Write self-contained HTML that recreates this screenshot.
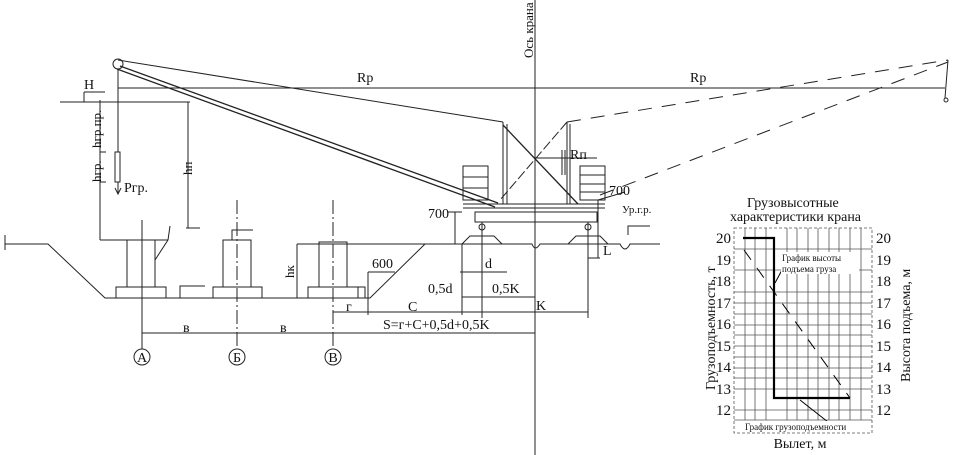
<!DOCTYPE html>
<html><head><meta charset="utf-8"><style>
html,body{margin:0;padding:0;background:#fff;}
svg{display:block;}
text{font-family:"Liberation Serif",serif;fill:#111;}
</style></head><body>
<svg width="956" height="455" viewBox="0 0 956 455" xmlns="http://www.w3.org/2000/svg">
<g stroke="#222" stroke-width="1" fill="none">
<line x1="535" y1="0" x2="535" y2="455"/>
<line x1="118" y1="88" x2="945" y2="88"/>
<circle cx="118" cy="64" r="5"/>
<line x1="118" y1="60" x2="503" y2="122"/>
<line x1="120" y1="66" x2="498" y2="203" stroke-width="1.3"/>
<line x1="117" y1="69" x2="495" y2="207" stroke-width="1.3"/>
<line x1="567" y1="122" x2="948" y2="60" stroke-dasharray="14,10"/>
<line x1="600" y1="195" x2="948" y2="62" stroke-dasharray="14,10"/>
<line x1="948" y1="60" x2="945" y2="98"/>
<circle cx="946" cy="100" r="2"/>
<line x1="503" y1="122" x2="503" y2="204"/>
<line x1="507" y1="124" x2="507" y2="204"/>
<line x1="503" y1="125" x2="578" y2="204" stroke-width="1.3"/>
<line x1="567" y1="122" x2="500" y2="200" stroke-dasharray="10,3"/>
<line x1="567" y1="122" x2="567" y2="204"/>
<line x1="570" y1="124" x2="570" y2="204"/>
<line x1="535" y1="158" x2="597" y2="158"/>
<line x1="562" y1="150" x2="562" y2="175"/><line x1="565" y1="150" x2="565" y2="175"/>
<rect x="463" y="166" width="25" height="34"/>
<line x1="463" y1="177" x2="488" y2="177"/><line x1="463" y1="188" x2="488" y2="188"/>
<rect x="580" y="166" width="25" height="34"/>
<line x1="580" y1="175" x2="605" y2="175"/><line x1="580" y1="184" x2="605" y2="184"/><line x1="580" y1="192" x2="605" y2="192"/>
<line x1="463" y1="204" x2="605" y2="204"/>
<line x1="463" y1="208" x2="605" y2="208"/>
<rect x="475" y="212" width="122" height="10"/>
<line x1="482" y1="222" x2="482" y2="234"/><circle cx="482" cy="227" r="3"/>
<line x1="588" y1="222" x2="588" y2="234"/><circle cx="588" cy="227" r="3"/>
<path d="M462 244 L470 236 L494 236 L502 244"/>
<path d="M568 244 L576 236 L600 236 L608 244"/>
<path d="M5 244 L48 244 L105 298 L370 298 L425 244 L532 244 Q535 252 540 244 L620 244 Q625 254 630 244 L660 244"/>
<line x1="5" y1="235" x2="5" y2="250"/>
<line x1="100" y1="100" x2="100" y2="240"/>
<line x1="60" y1="102" x2="190" y2="102"/>
<line x1="84" y1="92" x2="84" y2="102"/><line x1="84" y1="92" x2="105" y2="92"/>
<line x1="118" y1="69" x2="118" y2="152"/>
<rect x="115" y="152" width="5" height="30"/>
<line x1="118" y1="182" x2="118" y2="193"/>
<path d="M115 188 L118 194 L121 188"/>
<line x1="188" y1="102" x2="188" y2="228"/>
<line x1="186" y1="228" x2="200" y2="228"/>
<line x1="100" y1="152" x2="106" y2="152"/><line x1="100" y1="182" x2="106" y2="182"/>
<line x1="100" y1="240" x2="168" y2="240"/>
<path d="M168 240 L170 226 M168 240 L155 260"/>
<rect x="127" y="240" width="28" height="47"/><rect x="116" y="287" width="50" height="11"/>
<line x1="142" y1="220" x2="142" y2="349"/>
<rect x="223" y="240" width="28" height="47"/><rect x="213" y="287" width="49" height="11"/>
<line x1="237" y1="200" x2="237" y2="349" stroke-dasharray="14,3,2,3"/>
<path d="M232 240 L232 230 L253 230"/>
<rect x="319" y="242" width="28" height="45"/><rect x="308" y="287" width="50" height="11"/>
<line x1="333" y1="200" x2="333" y2="349" stroke-dasharray="14,3,2,3"/>
<line x1="297" y1="244" x2="425" y2="244"/>
<line x1="297" y1="244" x2="297" y2="298"/>
<path d="M180 298 L180 286 L205 286"/>
<path d="M358 287 L365 287 L365 298"/>
<line x1="368" y1="272" x2="368" y2="315"/>
<line x1="368" y1="272" x2="395" y2="272"/>
<line x1="142" y1="333" x2="420" y2="333"/>
<line x1="333" y1="312" x2="535" y2="312"/>
<line x1="368" y1="312" x2="368" y2="298"/>
<line x1="462" y1="297" x2="535" y2="297"/>
<line x1="462" y1="244" x2="462" y2="315"/>
<line x1="482" y1="234" x2="482" y2="318"/>
<line x1="588" y1="234" x2="588" y2="318"/>
<line x1="460" y1="272" x2="507" y2="272"/>
<line x1="482" y1="312" x2="588" y2="312"/>
<line x1="420" y1="333" x2="535" y2="333"/>
<line x1="448" y1="212" x2="462" y2="212"/><line x1="455" y1="212" x2="455" y2="244"/>
<line x1="598" y1="200" x2="598" y2="258"/>
<line x1="588" y1="258" x2="600" y2="258"/>
<line x1="598" y1="200" x2="625" y2="192"/>
<path d="M628 235 L628 226 L650 226"/>
<circle cx="142" cy="357" r="8"/><circle cx="237" cy="357" r="8"/><circle cx="333" cy="357" r="8"/>
</g>
<g font-size="14">
<text x="84" y="89">H</text>
<text x="357" y="82">Rp</text>
<text x="690" y="82">Rp</text>
<text x="570" y="159">Rп</text>
<text x="609" y="195">700</text>
<text x="428" y="218">700</text>
<text x="622" y="213" font-size="11">Ур.г.р.</text>
<text x="603" y="255">L</text>
<text x="485" y="268">d</text>
<text x="428" y="293">0,5d</text>
<text x="492" y="293">0,5K</text>
<text x="536" y="310">K</text>
<text x="408" y="311">C</text>
<text x="346" y="311">г</text>
<text x="372" y="268">600</text>
<text x="383" y="329">S=г+C+0,5d+0,5K</text>
<text x="183" y="332">в</text>
<text x="280" y="332">в</text>
<text x="124" y="192">Pгр.</text>
<text x="142" y="362" font-size="14" text-anchor="middle">А</text>
<text x="237" y="362" font-size="14" text-anchor="middle">Б</text>
<text x="333" y="362" font-size="14" text-anchor="middle">В</text>
<text transform="translate(101,182) rotate(-90)" font-size="13">hгр.</text>
<text transform="translate(101,148) rotate(-90)" font-size="13">hгр.пр.</text>
<text transform="translate(192,175) rotate(-90)" font-size="13">hп</text>
<text transform="translate(294,278) rotate(-90)" font-size="13">hк</text>
<text transform="translate(533,58) rotate(-90)" font-size="13">Ось крана</text>
</g>
<g stroke="#555" stroke-width="0.8">
<rect x="734" y="228" width="138" height="205" fill="none" stroke-dasharray="3,2"/>
<line x1="745" y1="228" x2="745" y2="420"/><line x1="755" y1="228" x2="755" y2="420"/><line x1="766" y1="228" x2="766" y2="420"/><line x1="787" y1="228" x2="787" y2="420"/><line x1="797" y1="228" x2="797" y2="420"/><line x1="808" y1="228" x2="808" y2="420"/><line x1="818" y1="228" x2="818" y2="420"/><line x1="829" y1="228" x2="829" y2="420"/><line x1="839" y1="228" x2="839" y2="420"/><line x1="850" y1="228" x2="850" y2="420"/><line x1="861" y1="228" x2="861" y2="420"/>
<line x1="734" y1="249" x2="872" y2="249"/><line x1="734" y1="270" x2="872" y2="270"/><line x1="734" y1="292" x2="872" y2="292"/><line x1="734" y1="303" x2="872" y2="303"/><line x1="734" y1="314" x2="872" y2="314"/><line x1="734" y1="325" x2="872" y2="325"/><line x1="734" y1="335" x2="872" y2="335"/><line x1="734" y1="346" x2="872" y2="346"/><line x1="734" y1="357" x2="872" y2="357"/><line x1="734" y1="368" x2="872" y2="368"/><line x1="734" y1="378" x2="872" y2="378"/><line x1="734" y1="389" x2="872" y2="389"/><line x1="734" y1="410" x2="872" y2="410"/><line x1="734" y1="420" x2="872" y2="420"/>
</g>
<g stroke="#000" fill="none">
<polyline points="743,238 774,238 774,398 850,398" stroke-width="2.2"/>
<line x1="744" y1="250" x2="850" y2="398" stroke-dasharray="12,10"/>
<line x1="775" y1="283" x2="782" y2="270"/>
<line x1="800" y1="400" x2="828" y2="422"/>
</g>
<rect x="781" y="252" width="78" height="22" fill="#fff"/>
<rect x="742" y="421" width="128" height="11" fill="#fff"/>
<g font-size="14">
<text x="747" y="207">Грузовысотные</text>
<text x="730" y="221">характеристики крана</text>
<text x="800" y="448" text-anchor="middle">Вылет, м</text>
<text x="782" y="261" font-size="9">График высоты</text>
<text x="782" y="272" font-size="9">подъема груза</text>
<text x="745" y="430" font-size="9">График грузоподъемности</text>
<g text-anchor="end" font-size="15">
<text x="731" y="243">20</text><text x="731" y="265">19</text><text x="731" y="286">18</text><text x="731" y="308">17</text><text x="731" y="329">16</text><text x="731" y="351">15</text><text x="731" y="372">14</text><text x="731" y="394">13</text><text x="731" y="415">12</text>
</g>
<g font-size="15">
<text x="876" y="243">20</text><text x="876" y="265">19</text><text x="876" y="286">18</text><text x="876" y="308">17</text><text x="876" y="329">16</text><text x="876" y="351">15</text><text x="876" y="372">14</text><text x="876" y="394">13</text><text x="876" y="415">12</text>
</g>
<text transform="translate(715,390) rotate(-90)" font-size="14">Грузоподъемность, т</text>
<text transform="translate(910,382) rotate(-90)" font-size="14">Высота подъема, м</text>
</g>
</svg>
</body></html>
